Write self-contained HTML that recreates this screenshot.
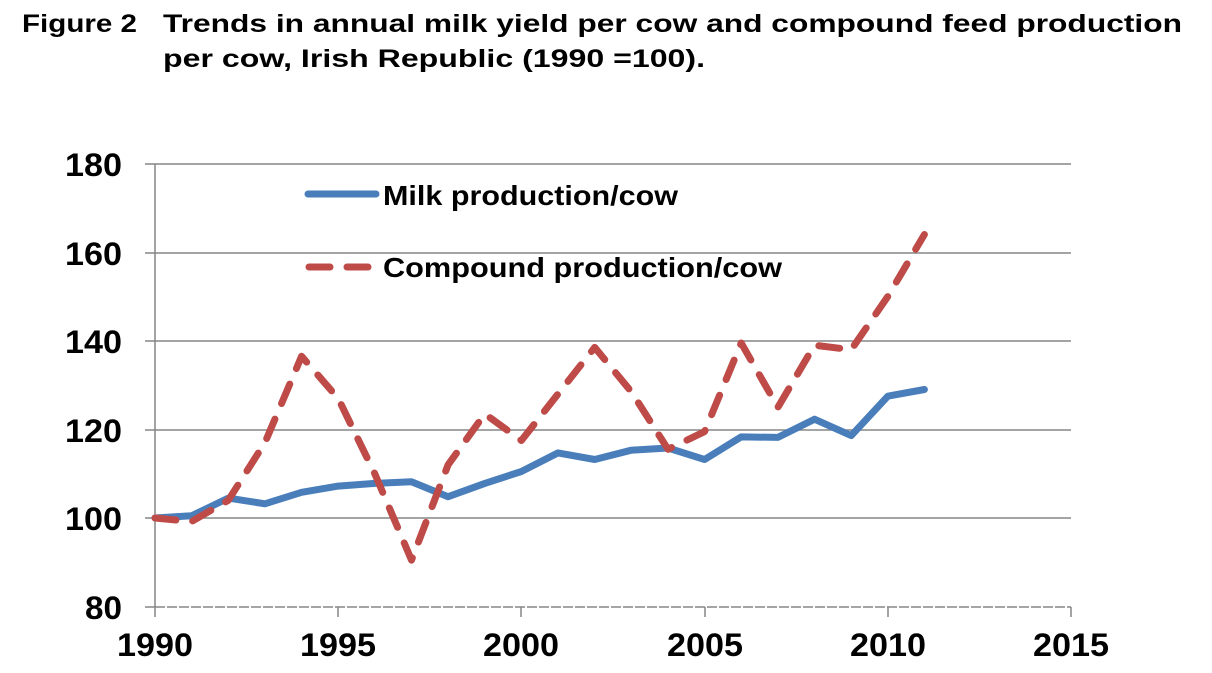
<!DOCTYPE html>
<html><head><meta charset="utf-8"><style>
html,body{margin:0;padding:0;background:#fff;width:1212px;height:673px;overflow:hidden}
svg{display:block}
text{font-family:"Liberation Sans",Arial,sans-serif;font-weight:bold;fill:#000}
</style></head><body>
<svg id="s" width="1212" height="673" xmlns="http://www.w3.org/2000/svg">
<text x="22" y="32" font-size="25" textLength="115" lengthAdjust="spacingAndGlyphs">Figure 2</text>
<text x="163" y="32" font-size="25" textLength="1019" lengthAdjust="spacingAndGlyphs">Trends in annual milk yield per cow and compound feed production</text>
<text x="163" y="67" font-size="25" textLength="542" lengthAdjust="spacingAndGlyphs">per cow, Irish Republic (1990 =100).</text>
<g stroke="#868686" stroke-width="1.5" fill="none">
<line x1="155" y1="164" x2="1071" y2="164"/>
<line x1="155" y1="253" x2="1071" y2="253"/>
<line x1="155" y1="341" x2="1071" y2="341"/>
<line x1="155" y1="430" x2="1071" y2="430"/>
<line x1="155" y1="518" x2="1071" y2="518"/>
<line x1="155" y1="607" x2="1071" y2="607" stroke-dasharray="10,2"/>
<line x1="155" y1="164" x2="155" y2="617"/>
<line x1="145" y1="164" x2="155" y2="164"/>
<line x1="145" y1="253" x2="155" y2="253"/>
<line x1="145" y1="341" x2="155" y2="341"/>
<line x1="145" y1="430" x2="155" y2="430"/>
<line x1="145" y1="518" x2="155" y2="518"/>
<line x1="145" y1="607" x2="155" y2="607"/>
<line x1="338" y1="607" x2="338" y2="617"/>
<line x1="521" y1="607" x2="521" y2="617"/>
<line x1="705" y1="607" x2="705" y2="617"/>
<line x1="888" y1="607" x2="888" y2="617"/>
<line x1="1071" y1="607" x2="1071" y2="617"/>
</g>
<g font-size="32">
<text x="65" y="176" textLength="57" lengthAdjust="spacingAndGlyphs">180</text>
<text x="65" y="265" textLength="57" lengthAdjust="spacingAndGlyphs">160</text>
<text x="65" y="353" textLength="57" lengthAdjust="spacingAndGlyphs">140</text>
<text x="65" y="442" textLength="57" lengthAdjust="spacingAndGlyphs">120</text>
<text x="65" y="530" textLength="57" lengthAdjust="spacingAndGlyphs">100</text>
<text x="85" y="619" textLength="37" lengthAdjust="spacingAndGlyphs">80</text>
</g>
<g font-size="32">
<text x="117" y="656" textLength="76" lengthAdjust="spacingAndGlyphs">1990</text>
<text x="300" y="656" textLength="76" lengthAdjust="spacingAndGlyphs">1995</text>
<text x="483" y="656" textLength="76" lengthAdjust="spacingAndGlyphs">2000</text>
<text x="667" y="656" textLength="76" lengthAdjust="spacingAndGlyphs">2005</text>
<text x="850" y="656" textLength="76" lengthAdjust="spacingAndGlyphs">2010</text>
<text x="1033" y="656" textLength="76" lengthAdjust="spacingAndGlyphs">2015</text>
</g>
<polyline id="milk" fill="none" stroke="#4a7ebb" stroke-width="7" stroke-linejoin="round" stroke-linecap="round"/>
<polyline id="comp" fill="none" stroke="#be4b48" stroke-width="7" stroke-dasharray="21,17" stroke-linejoin="round" stroke-linecap="round"/>
<line x1="308" y1="194" x2="376" y2="194" stroke="#4a7ebb" stroke-width="7" stroke-linecap="round"/>
<line x1="309" y1="267" x2="376" y2="267" stroke="#be4b48" stroke-width="7" stroke-dasharray="21,17" stroke-linecap="round"/>
<text x="383" y="205" font-size="28" textLength="295" lengthAdjust="spacingAndGlyphs">Milk production/cow</text>
<text x="383" y="277" font-size="28" textLength="399" lengthAdjust="spacingAndGlyphs">Compound production/cow</text>
</svg>
<script>
var m=[100,100.5,104.5,103.2,105.8,107.2,107.8,108.2,104.8,107.8,110.5,114.7,113.2,115.3,115.8,113.2,118.3,118.2,122.3,118.6,127.5,129];
var c=[100,99.2,104,117,136.5,127,110,90.5,112,123.5,117.5,128,138.5,128.5,115.5,119.5,139.5,125,139,138,150,164];
function p(a){return a.map(function(v,i){return (155+i*36.64).toFixed(1)+","+(518-(v-100)*4.43).toFixed(1)}).join(" ")}
document.getElementById("milk").setAttribute("points",p(m));
document.getElementById("comp").setAttribute("points",p(c));
</script>
</body></html>
